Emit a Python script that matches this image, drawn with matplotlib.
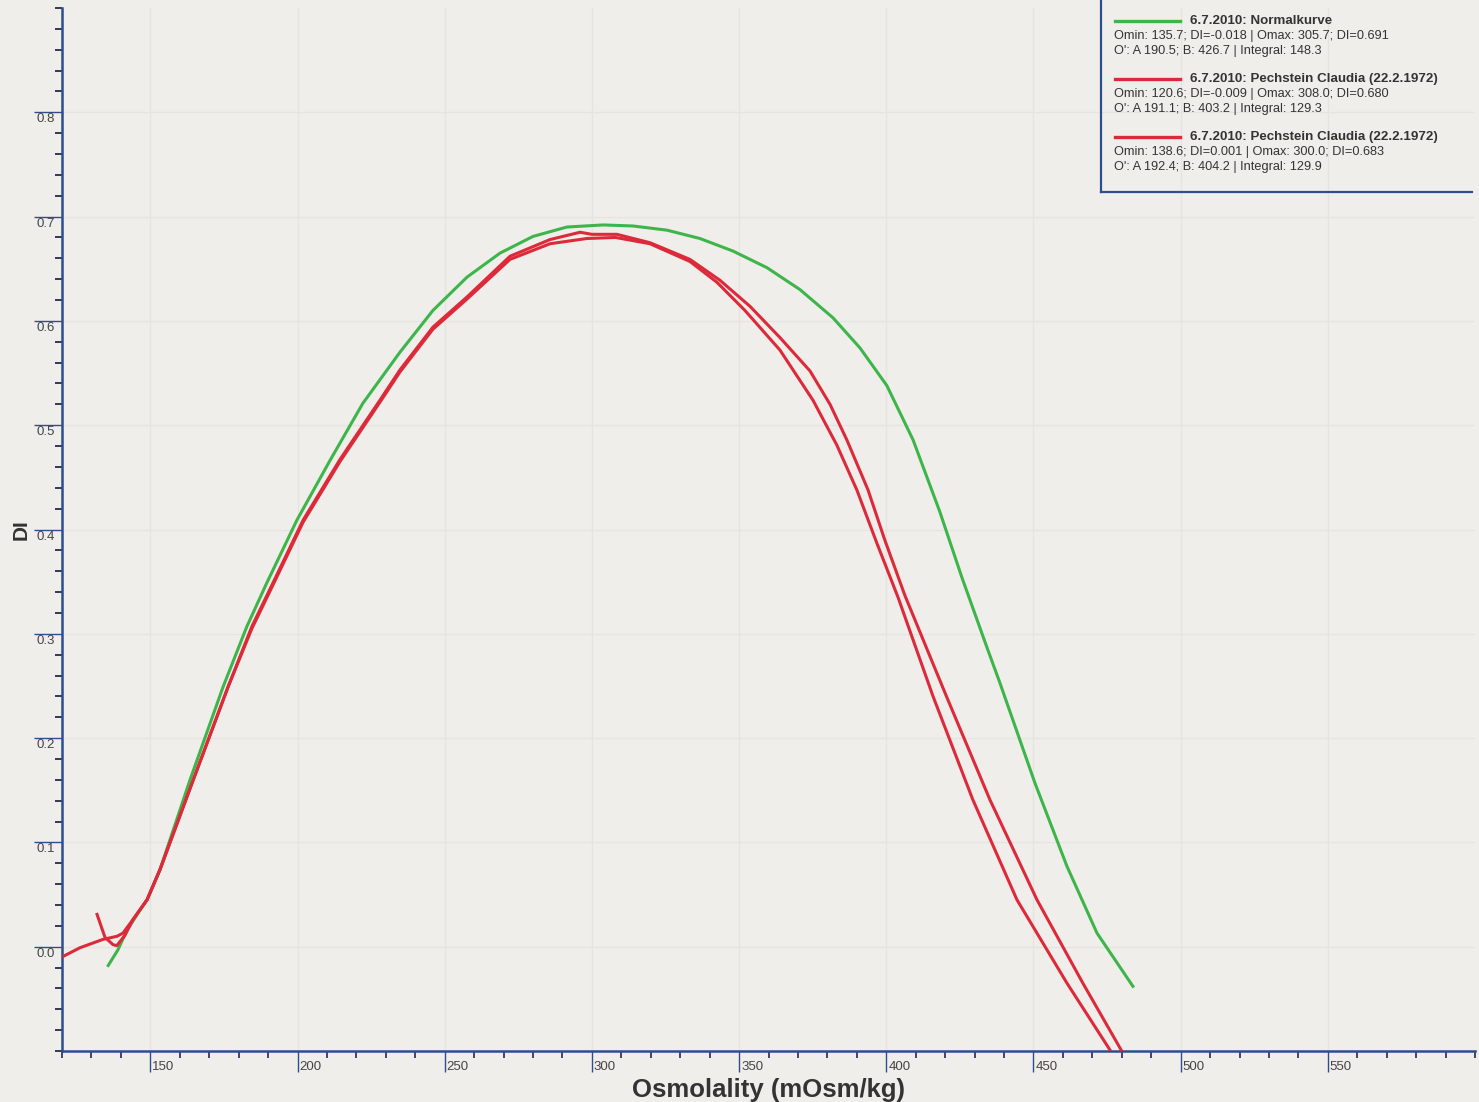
import matplotlib.pyplot as plt
from matplotlib.lines import Line2D
from matplotlib.ticker import MultipleLocator
from matplotlib.transforms import ScaledTranslation

# Normalkurve (green)
norm_x = [135.7, 139.0, 142.1, 146.5, 148.9, 153.3, 163.5, 174.7, 182.8, 189.6,
          199.8, 211.0, 222.2, 234.8, 246.0, 257.6, 268.8, 280.0, 291.5, 303.8,
          314.0, 325.5, 336.7, 347.9, 359.5, 370.7, 381.9, 391.1, 400.2, 409.1,
          418.2, 425.7, 434.2, 438.6, 450.5, 461.4, 471.6, 483.8]
norm_y = [-0.018, -0.003, 0.016, 0.035, 0.045, 0.074, 0.160, 0.249, 0.307, 0.349,
          0.409, 0.466, 0.521, 0.570, 0.610, 0.642, 0.665, 0.681, 0.690, 0.692,
          0.691, 0.687, 0.679, 0.667, 0.651, 0.630, 0.603, 0.574, 0.538, 0.486,
          0.417, 0.354, 0.287, 0.253, 0.157, 0.077, 0.013, -0.038]

# Pechstein Claudia, measurement 1 (red)
p1_x = [120.6, 126.1, 133.9, 138.7, 140.7, 144.1, 148.9, 153.3, 164.2, 176.4,
        184.5, 191.7, 201.9, 214.4, 228.0, 234.8, 246.0, 257.6, 272.2, 285.8,
        298.3, 308.0, 319.7, 333.3, 342.5, 352.0, 363.9, 375.1, 383.2, 390.0,
        396.8, 404.0, 415.9, 429.4, 444.4, 461.4, 476.0]
p1_y = [-0.009, -0.001, 0.007, 0.010, 0.013, 0.026, 0.045, 0.074, 0.157, 0.249,
        0.305, 0.347, 0.407, 0.465, 0.522, 0.551, 0.592, 0.621, 0.659, 0.674,
        0.679, 0.680, 0.674, 0.657, 0.637, 0.610, 0.572, 0.524, 0.481, 0.438,
        0.387, 0.335, 0.240, 0.141, 0.045, -0.035, -0.099]

# Pechstein Claudia, measurement 2 (red)
p2_x = [131.9, 134.6, 137.3, 138.6, 141.4, 144.1, 148.9, 153.3, 164.2, 176.4,
        184.5, 191.7, 201.9, 214.4, 228.0, 234.8, 246.0, 257.6, 272.2, 285.8,
        296.0, 300.0, 308.5, 319.7, 333.3, 343.5, 353.7, 363.9, 374.1, 380.9,
        386.6, 393.8, 399.5, 406.3, 420.6, 435.2, 451.2, 466.8, 480.4]
p2_y = [0.031, 0.009, 0.002, 0.001, 0.011, 0.026, 0.045, 0.074, 0.157, 0.249,
        0.307, 0.349, 0.409, 0.467, 0.524, 0.553, 0.594, 0.623, 0.662, 0.678,
        0.685, 0.683, 0.683, 0.675, 0.659, 0.639, 0.614, 0.584, 0.552, 0.520,
        0.486, 0.438, 0.390, 0.337, 0.239, 0.141, 0.045, -0.035, -0.102]

legend_titles = ["6.7.2010: Normalkurve",
                 "6.7.2010: Pechstein Claudia (22.2.1972)",
                 "6.7.2010: Pechstein Claudia (22.2.1972)"]
legend_lines1 = ["Omin: 135.7; DI=-0.018 | Omax: 305.7; DI=0.691",
                 "Omin: 120.6; DI=-0.009 | Omax: 308.0; DI=0.680",
                 "Omin: 138.6; DI=0.001 | Omax: 300.0; DI=0.683"]
legend_lines2 = ["O': A 190.5; B: 426.7 | Integral: 148.3",
                 "O': A 191.1; B: 403.2 | Integral: 129.3",
                 "O': A 192.4; B: 404.2 | Integral: 129.9"]

GREEN = "#3db54a"
RED = "#dd2a3a"
BLUE = "#2c4e8c"
BG = "#f0eeeb"

plt.rcParams["font.family"] = ["Liberation Sans", "DejaVu Sans"]

fig = plt.figure(figsize=(14.79, 11.02), dpi=100, facecolor=BG)
ax = fig.add_axes([62 / 1479, 1 - 1051 / 1102, (1475 - 62) / 1479, (1051 - 8) / 1102])
ax.set_facecolor(BG)

ax.plot(norm_x, norm_y, color=GREEN, lw=2.2, zorder=3, solid_joinstyle="round")
ax.plot(p1_x, p1_y, color=RED, lw=2.2, zorder=4, solid_joinstyle="round")
ax.plot(p2_x, p2_y, color=RED, lw=2.2, zorder=4, solid_joinstyle="round")

ax.set_xlim(120, 600)
ax.set_ylim(-0.1, 0.9)

for s in ["top", "right"]:
    ax.spines[s].set_visible(False)
for s in ["left", "bottom"]:
    ax.spines[s].set_color(BLUE)
    ax.spines[s].set_linewidth(1.8)

ax.xaxis.set_minor_locator(MultipleLocator(10))
ax.yaxis.set_minor_locator(MultipleLocator(0.02))
ax.set_xticks([150, 200, 250, 300, 350, 400, 450, 500, 550])
ax.set_yticks([0.0, 0.1, 0.2, 0.3, 0.4, 0.5, 0.6, 0.7, 0.8])
ax.set_yticklabels(["0.0", "0.1", "0.2", "0.3", "0.4", "0.5", "0.6", "0.7", "0.8"])

ax.tick_params(axis="x", which="major", direction="out", length=15, width=1.0,
               color=BLUE, labelsize=9.5, labelcolor="#444444", pad=-8)
ax.tick_params(axis="x", which="minor", direction="out", length=5, width=1.3,
               color="#333a55")
ax.tick_params(axis="y", which="major", direction="out", length=20, width=1.0,
               color=BLUE, labelsize=9.5, labelcolor="#444444", pad=-17)
ax.tick_params(axis="y", which="minor", direction="out", length=5, width=1.4,
               color="#333a55")

for lab in ax.get_xticklabels():
    lab.set_horizontalalignment("left")
    lab.set_transform(lab.get_transform() + ScaledTranslation(0.02, 0, fig.dpi_scale_trans))
for lab in ax.get_yticklabels():
    lab.set_verticalalignment("top")
    lab.set_transform(lab.get_transform() + ScaledTranslation(-0.03, -0.01, fig.dpi_scale_trans))

ax.grid(True, which="major", color="#e6e4e1", lw=0.9, zorder=0)

ax.set_xlabel("Osmolality (mOsm/kg)", fontsize=18.5, fontweight="bold", color="#333333")
ax.xaxis.set_label_coords(0.5, -0.026)
ax.set_ylabel("DI", fontsize=15, fontweight="bold", color="#333333")
ax.yaxis.set_label_coords(-0.022, 0.5)

# legend box (left and bottom border only)
def fx(px):
    return px / 1479

def fy(py):
    return 1 - py / 1102

fig.add_artist(Line2D([fx(1101), fx(1101)], [fy(0), fy(192)], color=BLUE, lw=1.6))
fig.add_artist(Line2D([fx(1101), fx(1472)], [fy(192), fy(192)], color=BLUE, lw=1.6))

colors = [GREEN, RED, RED]
for i in range(3):
    y0 = 21 + i * 58
    fig.add_artist(Line2D([fx(1115), fx(1180)], [fy(y0), fy(y0)], color=colors[i], lw=2.4))
    fig.text(fx(1190), fy(y0), legend_titles[i], fontsize=9.6, fontweight="bold",
             color="#333333", va="center", ha="left")
    fig.text(fx(1114), fy(y0 + 15), legend_lines1[i], fontsize=9.2,
             color="#333333", va="center", ha="left")
    fig.text(fx(1114), fy(y0 + 30), legend_lines2[i], fontsize=9.2,
             color="#333333", va="center", ha="left")

fig.savefig("out.png", dpi=100, facecolor=BG)
